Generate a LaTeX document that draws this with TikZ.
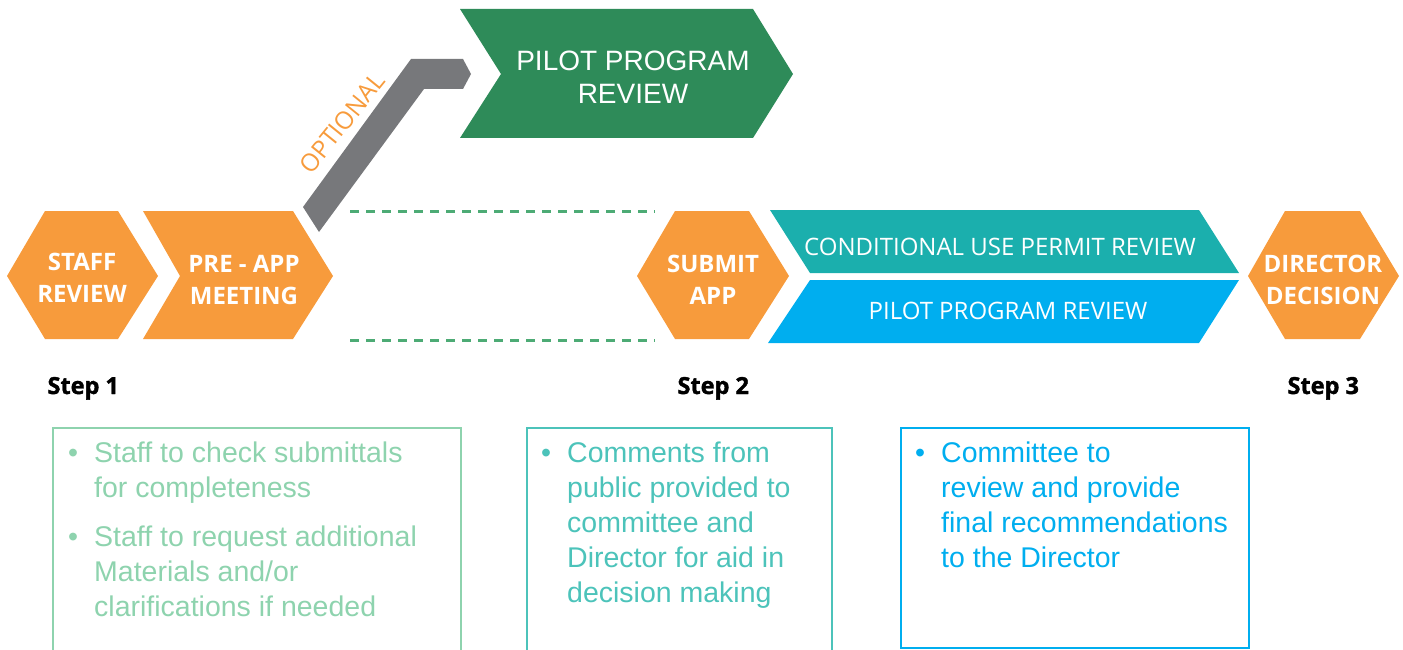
\documentclass[tikz,border=0pt]{standalone}
\usepackage{fontspec}
\setmainfont{Open Sans}
\newfontfamily\arialfont{Liberation Sans}
\newfontfamily\stepfont[BoldFeatures={FakeBold=1.6}]{Open Sans}
\definecolor{stepOrange}{HTML}{F79B3C}
\definecolor{pilotGreen}{HTML}{2E8B59}
\definecolor{optGrey}{HTML}{77787B}
\definecolor{cupTeal}{HTML}{1BAFAD}
\definecolor{pilotBlue}{HTML}{00AEEF}
\definecolor{dashGreen}{HTML}{4DAB75}
\definecolor{noteGreen}{HTML}{8ED3AE}
\definecolor{noteTeal}{HTML}{4CC3BA}

\begin{document}
\begin{tikzpicture}[x=1pt,y=-1pt,
  hexlabel/.style={text=white,font=\bfseries\fontsize{24}{32}\selectfont,align=center},
  barlabel/.style={text=white,font=\fontsize{24}{30}\selectfont},
  steplabel/.style={anchor=base west,font=\stepfont\bfseries\fontsize{23.5}{28}\selectfont},
  notetext/.style={anchor=north west,align=left,inner sep=0pt,font=\arialfont\fontsize{28.5}{35}\selectfont},
  dashline/.style={dashGreen,line width=3pt,dash pattern=on 9pt off 7pt}]
\useasboundingbox (0,0) rectangle (1403,650);
% step 1
\fill[stepOrange] (7,276)--(45,211)--(118,211)--(158,276)--(118,339)--(45,339)--cycle;
\node[hexlabel] (staff) at (82,278) {STAFF\\REVIEW};
\fill[stepOrange] (143,211)--(293,211)--(333,276)--(293,339)--(143,339)--(180,276)--cycle;
\node[hexlabel] (preapp) at (244,280) {PRE - APP\\MEETING};
% optional branch
\fill[optGrey] (303,207)--(411,59)--(463,59)--(471,74)--(463,89)--(424,89)--(319,232)--cycle;
\node[text=stepOrange,font=\fontsize{24.5}{24.5}\selectfont,rotate=51,inner sep=0pt] (optional) at (342,123) {OPTIONAL};
\fill[pilotGreen] (460,9)--(753,9)--(793,74)--(753,138)--(460,138)--(501,74)--cycle;
\node[text=white,font=\arialfont\fontsize{28}{33}\selectfont,align=center] (pilottop) at (633,77) {PILOT PROGRAM\\REVIEW};
\coordinate (dashTL) at (350,211);
\coordinate (dashTR) at (655,211);
\coordinate (dashBL) at (350,340);
\coordinate (dashBR) at (655,340);
\draw[dashline] (dashTL)--(dashTR);
\draw[dashline] (dashBL)--(dashBR);
% step 2
\fill[stepOrange] (637,276)--(675,211)--(749,211)--(789,276)--(749,339)--(675,339)--cycle;
\node[hexlabel] (submit) at (713,280) {SUBMIT\\APP};
\fill[cupTeal] (770,210)--(1199,210)--(1239,273)--(810,273)--cycle;
\node[barlabel] (cup) at (1000,247) {CONDITIONAL USE PERMIT REVIEW};
\fill[pilotBlue] (810,280)--(1239,280)--(1199,343)--(768,343)--cycle;
\node[barlabel] (pilot) at (1008,311) {PILOT PROGRAM REVIEW};
% step 3
\fill[stepOrange] (1248,276)--(1285,211)--(1360,211)--(1399,276)--(1360,339)--(1285,339)--cycle;
\node[hexlabel] (director) at (1323,280) {DIRECTOR\\DECISION};
\node[steplabel] (step1) at (44,394) {Step 1};
\node[steplabel] (step2) at (674,394) {Step 2};
\node[steplabel] (step3) at (1284,394) {Step 3};
% notes
\draw[noteGreen,line width=1.2pt] (53,652)--(53,428)--(461,428)--(461,652);
\draw[noteTeal,line width=1.2pt] (527,652)--(527,428)--(832,428)--(832,652);
\draw[pilotBlue,line width=2.5pt] (901,428) rectangle (1249,648);
\node[notetext,text=noteGreen] (check) at (94,442) {\llap{\textbullet\hspace{16pt}}Staff to check submittals\\for completeness\\[14pt]\llap{\textbullet\hspace{16pt}}Staff to request additional\\Materials and/or\\clarifications if needed};
\node[notetext,text=noteTeal] (comments) at (567,442) {\llap{\textbullet\hspace{16pt}}Comments from\\public provided to\\committee and\\Director for aid in\\decision making};
\node[notetext,text=pilotBlue] (committee) at (941,442) {\llap{\textbullet\hspace{16pt}}Committee to\\review and provide\\final recommendations\\to the Director};
\end{tikzpicture}
\end{document}
